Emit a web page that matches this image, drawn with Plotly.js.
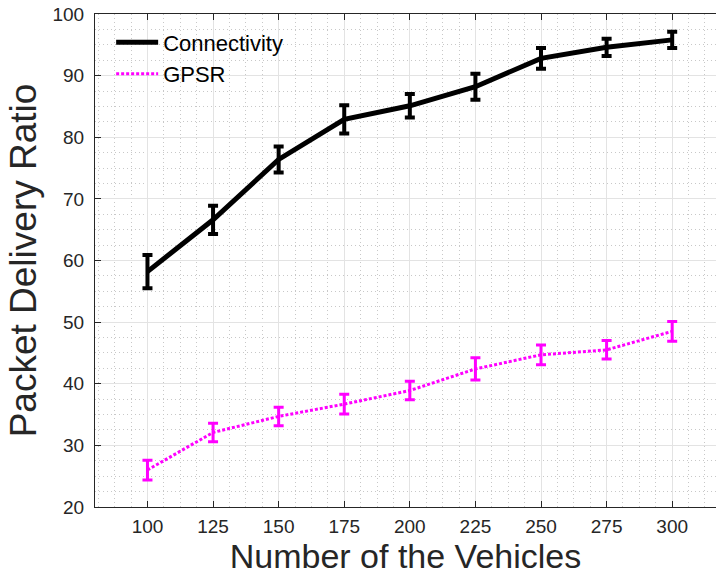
<!DOCTYPE html>
<html>
<head>
<meta charset="utf-8">
<script src="https://cdn.plot.ly/plotly-3.0.1.min.js"></script>
<style>html,body{margin:0;padding:0;background:#fff;}#chart{width:716px;height:575px;}</style>
</head>
<body>
<div id="chart"></div>
<script>
const vehicles = [100, 125, 150, 175, 200, 225, 250, 275, 300];
const connectivity = [58.2, 66.6, 76.4, 82.9, 85.1, 88.2, 92.8, 94.6, 95.8];
const connectivityErr = [2.7, 2.3, 2.1, 2.3, 1.9, 2.1, 1.7, 1.4, 1.3];
const gpsr = [26.0, 32.1, 34.7, 36.7, 38.9, 42.4, 44.7, 45.5, 48.5];
const gpsrErr = [1.6, 1.5, 1.5, 1.6, 1.5, 1.8, 1.6, 1.5, 1.6];
const xTickLabels = ['100', '125', '150', '175', '200', '225', '250', '275', '300'];

const axisFont = {family: 'Liberation Sans, Arial, sans-serif', color: '#262626'};

const traces = [
  {
    x: vehicles, y: connectivity, name: 'Connectivity', type: 'scatter', mode: 'lines',
    line: {color: '#000000', width: 5},
    error_y: {type: 'data', array: connectivityErr, visible: true, color: '#000000', thickness: 4, width: 5}
  },
  {
    x: vehicles, y: gpsr, name: 'GPSR', type: 'scatter', mode: 'lines',
    line: {color: '#ff00ff', width: 3, dash: '3px,2px'},
    error_y: {type: 'data', array: gpsrErr, visible: true, color: '#ff00ff', thickness: 3, width: 5}
  }
];

const layout = {
  width: 716, height: 575,
  margin: {l: 95, r: 0, t: 14, b: 68},
  paper_bgcolor: '#ffffff', plot_bgcolor: '#ffffff',
  showlegend: true,
  legend: {
    x: 0.026, y: 0.985, xanchor: 'left', yanchor: 'top',
    bgcolor: 'rgba(255,255,255,0)', borderwidth: 0,
    font: {family: 'Liberation Sans, Arial, sans-serif', size: 22, color: '#000000'},
    itemwidth: 42, tracegroupgap: 0
  },
  xaxis: {
    range: [80, 316.7],
    tickmode: 'array', tickvals: vehicles, ticktext: xTickLabels,
    ticks: 'inside', ticklen: 6, tickcolor: '#262626',
    ticklabelstandoff: 2,
    showline: true, linecolor: '#262626', linewidth: 1, mirror: 'ticks',
    showgrid: true, gridcolor: '#e3e3e3', gridwidth: 1,
    minor: {tick0: 100, dtick: 6.25, showgrid: true, gridcolor: '#c8c8c8', griddash: '1px,3px', gridwidth: 1, ticks: ''},
    zeroline: false,
    tickfont: Object.assign({size: 19}, axisFont),
    title: {text: 'Number of the Vehicles', font: Object.assign({size: 34}, axisFont), standoff: 9}
  },
  yaxis: {
    range: [20, 100],
    tick0: 20, dtick: 10,
    ticks: 'inside', ticklen: 6, tickcolor: '#262626',
    ticklabelstandoff: 6,
    showline: true, linecolor: '#262626', linewidth: 1, mirror: false,
    showgrid: true, gridcolor: '#e3e3e3', gridwidth: 1,
    minor: {tick0: 20, dtick: 2.5, showgrid: true, gridcolor: '#c8c8c8', griddash: '1px,3px', gridwidth: 1, ticks: ''},
    zeroline: false,
    tickfont: Object.assign({size: 19}, axisFont),
    title: {text: 'Packet Delivery Ratio', font: Object.assign({size: 37}, axisFont), standoff: 4}
  }
};

Plotly.newPlot('chart', traces, layout, {displayModeBar: false, staticPlot: true});
</script>
</body>
</html>
